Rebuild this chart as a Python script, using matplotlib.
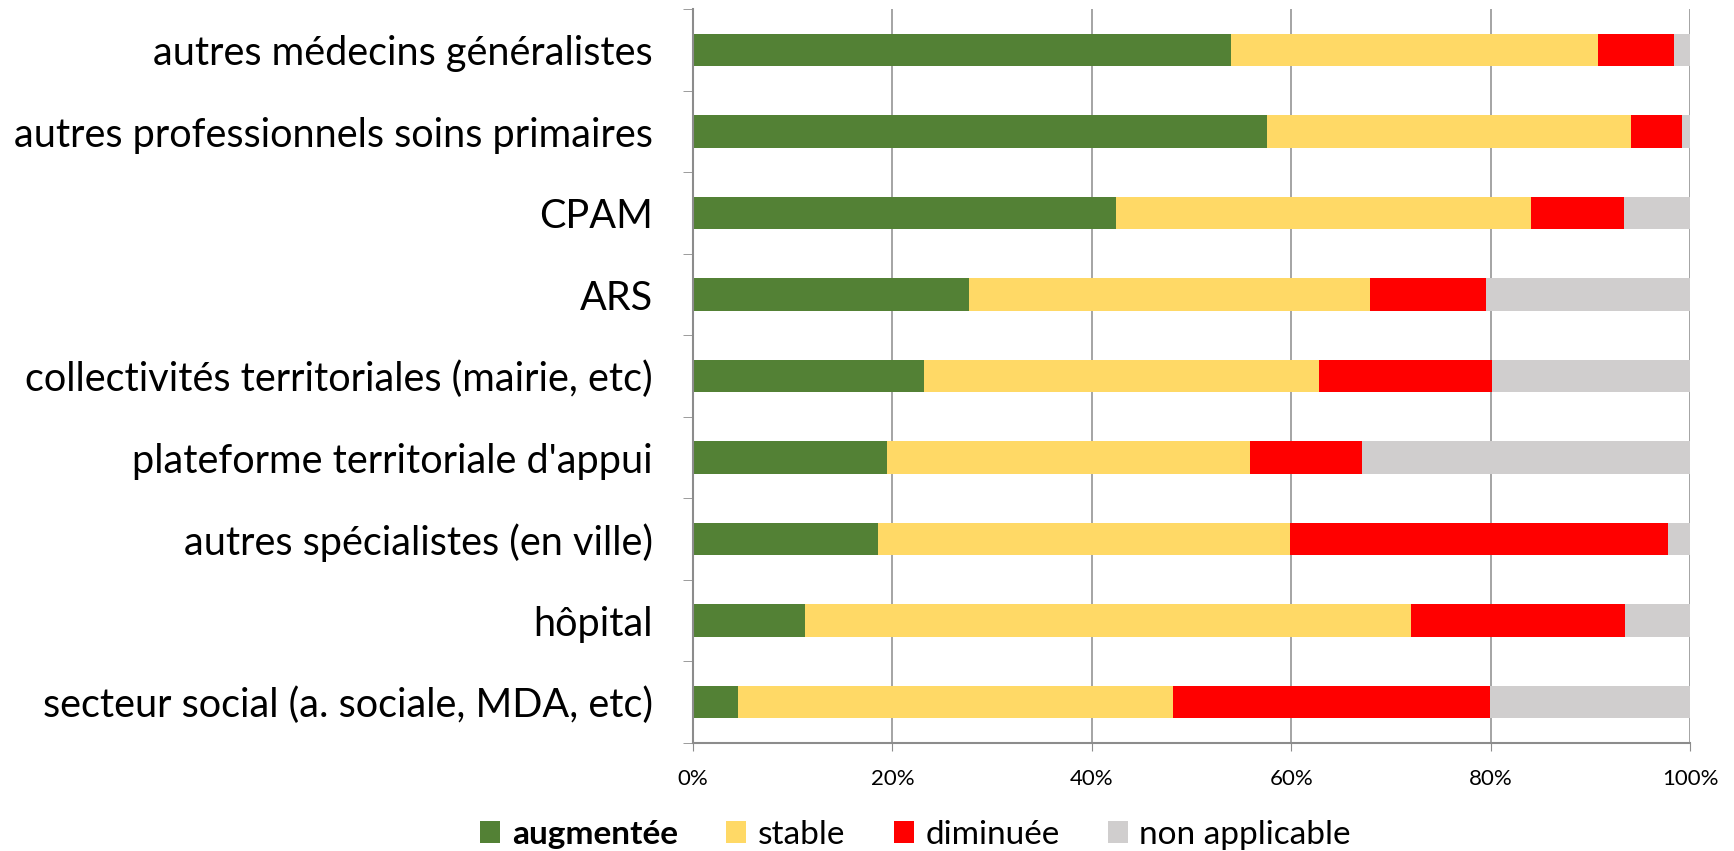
import matplotlib.pyplot as plt
import numpy as np
from matplotlib.patches import Patch

categories = [
    "autres médecins généralistes",
    "autres professionnels soins primaires",
    "CPAM",
    "ARS",
    "collectivités territoriales (mairie, etc)",
    "plateforme territoriale d'appui",
    "autres spécialistes (en ville)",
    "hôpital",
    "secteur social (a. sociale, MDA, etc)",
]
augmentee = [54.0, 57.6, 42.4, 27.7, 23.2, 19.5, 18.6, 11.2, 4.5]
stable = [36.8, 36.5, 41.7, 40.2, 39.6, 36.4, 41.3, 60.8, 43.6]
diminuee = [7.6, 5.1, 9.3, 11.6, 17.3, 11.2, 37.9, 21.5, 31.8]
non_applicable = [100 - a - s - d for a, s, d in zip(augmentee, stable, diminuee)]

series_names = ["augmentée", "stable", "diminuée", "non applicable"]
colors = ["#538135", "#FFD966", "#FF0000", "#D0CECE"]
x_ticks = [0, 20, 40, 60, 80, 100]

plt.rcParams["font.family"] = ["Lato", "DejaVu Sans"]

fig = plt.figure(figsize=(17.34, 8.51), dpi=100)
ax = fig.add_axes([0.3997, 0.127, 0.5749, 0.862])

y = np.arange(len(categories))
left = np.zeros(len(categories))
for vals, col in zip([augmentee, stable, diminuee, non_applicable], colors):
    ax.barh(y, vals, left=left, height=0.4, color=col, zorder=2)
    left += np.array(vals)

ax.set_xlim(0, 100)
ax.set_ylim(len(categories) - 0.5, -0.5)

# vertical gridlines
ax.set_xticks(x_ticks)
ax.set_xticklabels([f"{t}%" for t in x_ticks], fontsize=16)
ax.xaxis.grid(True, color="#8c8c8c", linewidth=1.1, zorder=0)
ax.tick_params(axis="x", direction="out", length=6, color="#8c8c8c", pad=13)

# category labels at centers, boundary ticks as minor ticks
ax.set_yticks(y)
ax.set_yticklabels(categories, fontsize=28.5)
ax.tick_params(axis="y", which="major", length=0, pad=29)
ax.set_yticks(np.arange(len(categories) + 1) - 0.5, minor=True)
ax.tick_params(axis="y", which="minor", direction="out", length=7, color="#8c8c8c")

for side in ["top", "right"]:
    ax.spines[side].set_visible(False)
for side in ["left", "bottom"]:
    ax.spines[side].set_color("#8c8c8c")
    ax.spines[side].set_linewidth(1.5)

handles = [Patch(facecolor=c, edgecolor="none") for c in colors]
leg = fig.legend(handles, series_names, loc="center", bbox_to_anchor=(0.528, 0.019),
                 ncol=4, frameon=False, fontsize=24, handlelength=0.6, handleheight=0.6,
                 handletextpad=0.35, columnspacing=1.45, borderpad=0)
leg.get_texts()[0].set_fontweight("bold")

fig.savefig("out.png", dpi=100)
